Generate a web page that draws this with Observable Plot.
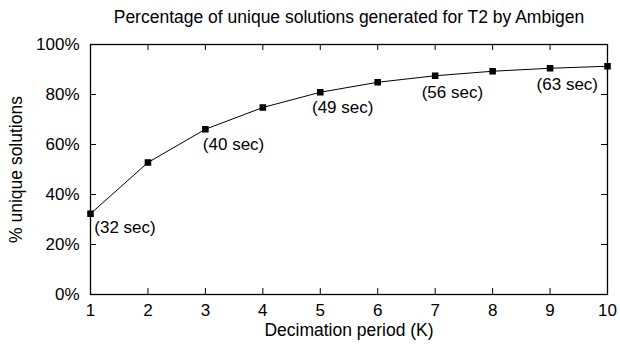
<!DOCTYPE html>
<html>
<head>
<meta charset="utf-8">
<script src="https://cdn.jsdelivr.net/npm/d3@7"></script>
<script src="https://cdn.jsdelivr.net/npm/@observablehq/plot@0.6"></script>
<style>
  html, body { margin: 0; padding: 0; background: white; }
</style>
</head>
<body>
<div id="chart"></div>
<script>
// Data
const periods = [1, 2, 3, 4, 5, 6, 7, 8, 9, 10];
const uniquePct = [32.3, 52.8, 66.1, 74.8, 80.9, 84.9, 87.5, 89.3, 90.5, 91.3];

// Annotation labels (data coordinates)
const noteText = ["(32 sec)", "(40 sec)", "(49 sec)", "(56 sec)", "(63 sec)"];
const noteX = [1.60, 3.49, 5.39, 7.30, 9.30];
const noteY = [26.7, 60.0, 74.9, 80.9, 84.0];

const xTicks = [1, 2, 3, 4, 5, 6, 7, 8, 9, 10];
const yTicks = [0, 20, 40, 60, 80, 100];

const titleText = "Percentage of unique solutions generated for T2 by Ambigen";
const xLabel = "Decimation period (K)";
const yLabel = "% unique solutions";

const points = periods.map((k, i) => ({k, v: uniquePct[i]}));
const notes = noteText.map((t, i) => ({t, x: noteX[i], y: noteY[i]}));

const W = 620, H = 352;
const mL = 90, mR = 13, mT = 44, mB = 58;
const innerW = W - mL - mR, innerH = H - mT - mB;
const tick = 6;

const chart = Plot.plot({
  width: W,
  height: H,
  marginLeft: mL,
  marginRight: mR,
  marginTop: mT,
  marginBottom: mB,
  style: {fontFamily: "'Liberation Sans', Arial, sans-serif", fontSize: "17px", background: "white", color: "black"},
  x: {domain: [1, 10]},
  y: {domain: [0, 100]},
  marks: [
    // inward ticks on all four sides
    Plot.tickY(yTicks, {y: d => d, insetRight: innerW - tick, stroke: "black"}),
    Plot.tickY(yTicks, {y: d => d, insetLeft: innerW - tick, stroke: "black"}),
    Plot.tickX(xTicks, {x: d => d, insetTop: innerH - tick, stroke: "black"}),
    Plot.tickX(xTicks, {x: d => d, insetBottom: innerH - tick, stroke: "black"}),
    Plot.frame({stroke: "black", strokeWidth: 1.3}),
    Plot.axisY(yTicks, {tickSize: 0, tickPadding: 11, tickFormat: d => d + "%", label: null, fontSize: 17}),
    Plot.axisX(xTicks, {tickSize: 0, tickPadding: 9, tickFormat: d => String(d), label: null, fontSize: 17}),
    Plot.line(points, {x: "k", y: "v", stroke: "black", strokeWidth: 1}),
    Plot.dot(points, {x: "k", y: "v", symbol: "square", r: 3.7, fill: "black", stroke: "none"}),
    Plot.text(notes, {x: "x", y: "y", text: "t", fontSize: 17, fill: "black", textAnchor: "middle"}),
    Plot.text([titleText], {frameAnchor: "top", lineAnchor: "middle", textAnchor: "middle", dy: -27, fontSize: 17.5, fill: "black"}),
    Plot.text([xLabel], {frameAnchor: "bottom", lineAnchor: "middle", textAnchor: "middle", dy: 36, fontSize: 17.5, fill: "black"}),
    Plot.text([yLabel], {frameAnchor: "left", lineAnchor: "middle", textAnchor: "middle", dx: -74, rotate: -90, fontSize: 17.5, fill: "black"})
  ]
});
document.getElementById("chart").appendChild(chart);
</script>
</body>
</html>
